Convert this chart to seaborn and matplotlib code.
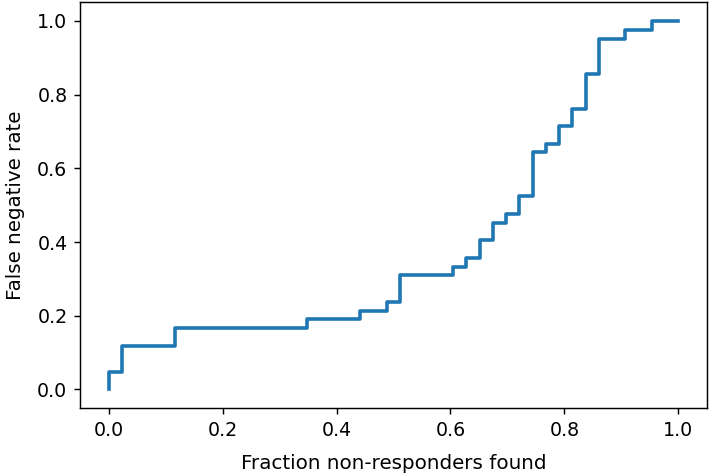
import matplotlib
matplotlib.use("Agg")
import matplotlib.pyplot as plt
import seaborn as sns
import pandas as pd

# puntos de la curva (escalones, steps-post)
frac_found = [0.0, 0.0, 0.023, 0.116, 0.349, 0.442, 0.488, 0.512, 0.605, 0.628,
              0.651, 0.674, 0.698, 0.721, 0.744, 0.767, 0.791, 0.814, 0.837,
              0.860, 0.907, 0.953, 1.0]
fn_rate = [0.0, 0.048, 0.119, 0.167, 0.190, 0.214, 0.238, 0.310, 0.333, 0.357,
           0.405, 0.452, 0.476, 0.524, 0.643, 0.667, 0.714, 0.762, 0.857,
           0.952, 0.976, 1.0, 1.0]

df = pd.DataFrame({"x": frac_found, "y": fn_rate})

DPI = 130
fig, ax = plt.subplots(figsize=(709 / DPI, 476 / DPI), dpi=DPI)
sns.lineplot(data=df, x="x", y="y", ax=ax, estimator=None, sort=False,
             drawstyle="steps-post", color="#1f77b4", linewidth=2)

ax.set_xlabel("Fraction non-responders found", fontsize=11, labelpad=8)
ax.set_ylabel("False negative rate", fontsize=11, labelpad=7)
ax.tick_params(labelsize=10.5)
ax.set_xticks([0.0, 0.2, 0.4, 0.6, 0.8, 1.0])
ax.set_yticks([0.0, 0.2, 0.4, 0.6, 0.8, 1.0])

plt.subplots_adjust(left=0.113, right=0.997, top=0.995, bottom=0.143)
plt.savefig("out.png", dpi=DPI)
